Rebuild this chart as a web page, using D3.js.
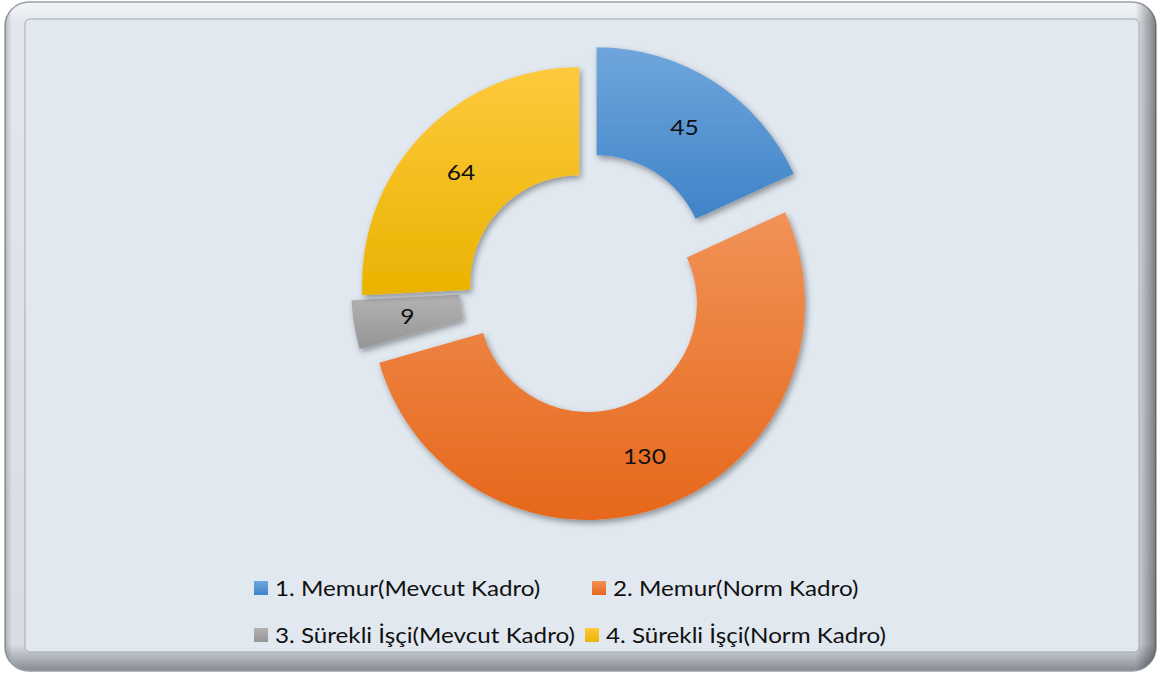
<!DOCTYPE html>
<html>
<head>
<meta charset="utf-8">
<script src="https://cdn.jsdelivr.net/npm/d3@7"></script>
<style>
  body { margin: 0; background: #ffffff; }
  text { font-family: Lato, "Open Sans", sans-serif; }
</style>
</head>
<body>
<svg width="1158" height="675"></svg>
<script>
const categories = ["1. Memur(Mevcut Kadro)", "2. Memur(Norm Kadro)", "3. Sürekli İşçi(Mevcut Kadro)", "4. Sürekli İşçi(Norm Kadro)"];
const values = [45, 130, 9, 64];
const explode = [27, 17, 14, 4];
const colorsTop = ["#6fa6dc", "#f19257", "#b3b3b3", "#ffc93e"];
const colorsBottom = ["#3f83c8", "#e6681b", "#959595", "#e9b300"];

const svg = d3.select("svg"),
      W = +svg.attr("width"),
      H = +svg.attr("height");

const defs = svg.append("defs");

// frame gradients
const fg = defs.append("linearGradient").attr("id", "frameV")
  .attr("x1", 0).attr("y1", 0).attr("x2", 0).attr("y2", 1);
fg.append("stop").attr("offset", 0).attr("stop-color", "#f3f5f8");
fg.append("stop").attr("offset", 0.03).attr("stop-color", "#e4e8ee");
fg.append("stop").attr("offset", 0.96).attr("stop-color", "#d9dde3");
fg.append("stop").attr("offset", 1).attr("stop-color", "#858991");

const fh = defs.append("linearGradient").attr("id", "frameH")
  .attr("x1", 0).attr("y1", 0).attr("x2", 1).attr("y2", 0);
fh.append("stop").attr("offset", 0).attr("stop-color", "#000").attr("stop-opacity", 0.2);
fh.append("stop").attr("offset", 0.006).attr("stop-color", "#000").attr("stop-opacity", 0);
fh.append("stop").attr("offset", 0.982).attr("stop-color", "#000").attr("stop-opacity", 0);
fh.append("stop").attr("offset", 1).attr("stop-color", "#000").attr("stop-opacity", 0.45);

values.forEach((v, i) => {
  const g = defs.append("linearGradient").attr("id", "grad" + i)
    .attr("x1", 0).attr("y1", 0).attr("x2", 0).attr("y2", 1);
  g.append("stop").attr("offset", 0).attr("stop-color", colorsTop[i]);
  g.append("stop").attr("offset", 1).attr("stop-color", colorsBottom[i]);
});

const shadow = defs.append("filter").attr("id", "shadow")
  .attr("x", "-20%").attr("y", "-20%").attr("width", "140%").attr("height", "140%");
shadow.append("feDropShadow")
  .attr("dx", 2).attr("dy", 3).attr("stdDeviation", 3)
  .attr("flood-color", "#000").attr("flood-opacity", 0.38);

// outer frame
svg.append("rect")
  .attr("x", 5).attr("y", 2).attr("width", 1151).attr("height", 669)
  .attr("rx", 24)
  .attr("fill", "url(#frameV)")
  .attr("stroke", "#9aa0a8").attr("stroke-width", 1.5);
svg.append("rect")
  .attr("x", 5).attr("y", 2).attr("width", 1151).attr("height", 669)
  .attr("rx", 24)
  .attr("fill", "url(#frameH)");

// plot area
svg.append("rect")
  .attr("x", 25).attr("y", 19).attr("width", 1114).attr("height", 633)
  .attr("rx", 5)
  .attr("fill", "#e1e8f0")
  .attr("stroke", "#a4a9b1").attr("stroke-width", 1);

// donut
const cx = 582, cy = 287;
const outerR = 217, innerR = 109;

const pie = d3.pie().sort(null).value(d => d);
const arc = d3.arc().innerRadius(innerR).outerRadius(outerR);

const slices = svg.append("g")
  .attr("transform", `translate(${cx},${cy})`)
  .selectAll("g")
  .data(pie(values))
  .enter().append("g")
  .attr("transform", (d, i) => {
    const mid = (d.startAngle + d.endAngle) / 2;
    return `translate(${explode[i] * Math.sin(mid)},${-explode[i] * Math.cos(mid)})`;
  });

slices.append("path")
  .attr("d", arc)
  .attr("fill", (d, i) => `url(#grad${i})`)
  .attr("filter", "url(#shadow)");

slices.append("text")
  .attr("transform", d => `translate(${arc.centroid(d)}) scale(1.12,1)`)
  .attr("text-anchor", "middle")
  .attr("dy", "0.35em")
  .style("font-size", "22px")
  .style("fill", "#111")
  .text(d => d.data);

// legend
const legendPos = [[254, 588], [592, 588], [254, 635], [585, 635]];

const legend = svg.append("g").selectAll("g")
  .data(categories)
  .enter().append("g")
  .attr("transform", (d, i) => `translate(${legendPos[i][0]},${legendPos[i][1]})`);

legend.append("rect")
  .attr("x", 0).attr("y", -7)
  .attr("width", 14).attr("height", 14)
  .attr("fill", (d, i) => `url(#grad${i})`);

legend.append("text")
  .attr("transform", "translate(21,0) scale(1.1,1)")
  .attr("dy", "0.35em")
  .style("font-size", "22px")
  .style("fill", "#111")
  .text(d => d);
</script>
</body>
</html>
